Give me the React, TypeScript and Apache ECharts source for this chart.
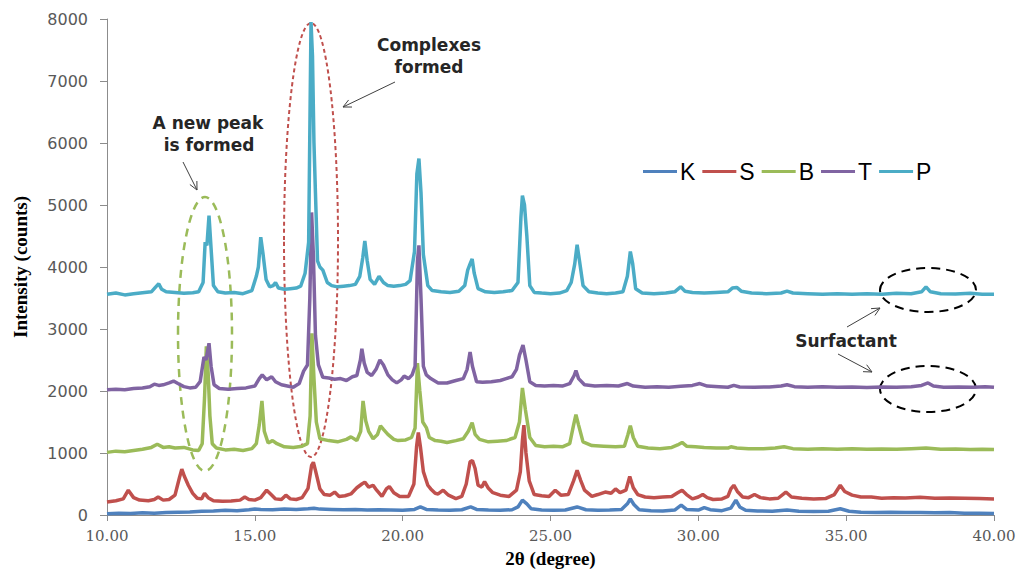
import React, { useEffect, useRef } from "react";
import * as echarts from "echarts";

const seriesNames = ["K", "S", "B", "T", "P"];
const seriesColors = ["#4F81BD", "#C0504D", "#9BBB59", "#8064A2", "#4BACC6"];

const kData = [
  [10.0, 20], [10.4, 30], [10.8, 25], [11.2, 35], [11.6, 30], [12.0, 40], [12.4, 45], [12.8, 50], [13.2, 60], [13.6, 65],
  [14.0, 75], [14.4, 70], [14.8, 85], [15.0, 95], [15.2, 90], [15.6, 85], [16.0, 95], [16.4, 90], [16.8, 100], [17.0, 110],
  [17.2, 95], [17.6, 90], [18.0, 85], [18.4, 90], [18.8, 80], [19.2, 85], [19.6, 80], [20.0, 75], [20.4, 90], [20.6, 130],
  [20.8, 90], [21.2, 80], [21.6, 75], [22.0, 85], [22.3, 130], [22.5, 90], [22.9, 80], [23.3, 75], [23.7, 85], [23.9, 130],
  [24.05, 240], [24.2, 180], [24.35, 100], [24.7, 80], [25.1, 75], [25.5, 80], [25.9, 130], [26.2, 85], [26.6, 75], [27.0, 80],
  [27.4, 90], [27.6, 180], [27.7, 260], [27.82, 170], [28.0, 85], [28.4, 70], [28.8, 65], [29.2, 80], [29.42, 160], [29.6, 90],
  [30.0, 80], [30.2, 120], [30.4, 85], [30.8, 70], [31.1, 110], [31.27, 240], [31.4, 130], [31.6, 75], [32.0, 65], [32.5, 60],
  [33.0, 80], [33.4, 60], [33.9, 55], [34.4, 60], [34.8, 100], [35.1, 60], [35.5, 45], [36.0, 40], [36.5, 45], [37.0, 40],
  [37.5, 40], [38.0, 35], [38.5, 40], [39.0, 30], [39.5, 30], [40.0, 25],
];

const sData = [
  [10.0, 210], [10.3, 230], [10.55, 260], [10.72, 400], [10.9, 280], [11.1, 240], [11.4, 230], [11.6, 250], [11.73, 290], [11.9, 240],
  [12.1, 250], [12.3, 320], [12.45, 600], [12.53, 740], [12.62, 620], [12.75, 480], [12.9, 350], [13.05, 270], [13.2, 260], [13.3, 350],
  [13.42, 280], [13.6, 230], [13.9, 220], [14.2, 225], [14.5, 240], [14.66, 290], [14.8, 250], [15.0, 240], [15.2, 280], [15.4, 400],
  [15.55, 330], [15.7, 260], [15.9, 250], [16.05, 320], [16.2, 260], [16.4, 250], [16.6, 280], [16.8, 430], [16.92, 800], [16.98, 850],
  [17.05, 720], [17.2, 420], [17.35, 330], [17.55, 320], [17.7, 370], [17.85, 300], [18.05, 310], [18.25, 340], [18.45, 440], [18.62, 500],
  [18.72, 530], [18.85, 450], [19.0, 480], [19.12, 400], [19.3, 300], [19.45, 420], [19.55, 460], [19.7, 360], [19.9, 300], [20.2, 300],
  [20.38, 500], [20.47, 1100], [20.53, 1330], [20.6, 1100], [20.7, 700], [20.85, 480], [20.95, 420], [21.1, 350], [21.2, 340], [21.37, 400],
  [21.55, 320], [21.8, 265], [22.0, 300], [22.15, 500], [22.28, 860], [22.36, 880], [22.45, 750], [22.55, 480], [22.68, 450], [22.77, 540],
  [22.9, 430], [23.05, 360], [23.3, 320], [23.6, 300], [23.85, 400], [23.98, 700], [24.05, 1200], [24.1, 1450], [24.17, 1000], [24.28, 550],
  [24.45, 330], [24.7, 310], [24.95, 300], [25.16, 400], [25.35, 320], [25.6, 330], [25.78, 550], [25.9, 720], [26.02, 560], [26.15, 400],
  [26.4, 300], [26.6, 330], [26.85, 370], [27.05, 350], [27.2, 420], [27.35, 360], [27.55, 400], [27.68, 620], [27.8, 440], [27.95, 330],
  [28.2, 290], [28.5, 280], [28.8, 290], [29.1, 300], [29.3, 360], [29.45, 400], [29.6, 330], [29.8, 260], [30.0, 290], [30.15, 330],
  [30.3, 280], [30.5, 250], [30.8, 260], [31.0, 300], [31.1, 420], [31.2, 480], [31.32, 380], [31.5, 290], [31.7, 280], [31.9, 330],
  [32.1, 280], [32.4, 260], [32.7, 270], [32.96, 370], [33.15, 290], [33.5, 270], [33.9, 260], [34.3, 265], [34.6, 330], [34.8, 480],
  [34.95, 380], [35.2, 320], [35.5, 290], [35.85, 290], [36.2, 270], [36.6, 280], [37.0, 275], [37.5, 285], [38.0, 270], [38.5, 275],
  [39.0, 270], [39.5, 265], [40.0, 260],
];

const bData = [
  [10.0, 1010], [10.3, 1030], [10.6, 1020], [10.9, 1040], [11.2, 1060], [11.5, 1090], [11.7, 1140], [11.9, 1090], [12.1, 1100], [12.3, 1080],
  [12.6, 1090], [12.9, 1050], [13.1, 1040], [13.22, 1150], [13.3, 1900], [13.36, 2720], [13.42, 2300], [13.48, 1600], [13.56, 1150], [13.7, 1080],
  [14.0, 1050], [14.3, 1060], [14.6, 1040], [14.9, 1070], [15.05, 1150], [15.15, 1450], [15.24, 1840], [15.32, 1350], [15.45, 1160], [15.6, 1200],
  [15.75, 1150], [16.0, 1100], [16.3, 1090], [16.6, 1110], [16.78, 1150], [16.87, 1600], [16.93, 2930], [17.0, 2200], [17.08, 1500], [17.2, 1230],
  [17.5, 1200], [17.8, 1180], [18.1, 1220], [18.25, 1260], [18.45, 1200], [18.58, 1350], [18.66, 1840], [18.75, 1520], [18.85, 1350], [19.0, 1230],
  [19.15, 1300], [19.25, 1440], [19.35, 1380], [19.5, 1300], [19.7, 1220], [19.85, 1200], [20.1, 1210], [20.3, 1250], [20.42, 1400], [20.5, 2450],
  [20.58, 2000], [20.68, 1500], [20.8, 1410], [20.9, 1250], [21.1, 1200], [21.3, 1190], [21.5, 1170], [21.8, 1200], [22.05, 1230], [22.22, 1350],
  [22.35, 1490], [22.45, 1300], [22.6, 1220], [22.9, 1180], [23.2, 1190], [23.5, 1200], [23.8, 1250], [23.95, 1500], [24.05, 2050], [24.15, 1700],
  [24.3, 1250], [24.5, 1120], [24.8, 1100], [25.1, 1110], [25.4, 1100], [25.65, 1150], [25.78, 1450], [25.86, 1620], [25.95, 1450], [26.1, 1180],
  [26.4, 1120], [26.8, 1110], [27.2, 1100], [27.5, 1110], [27.62, 1300], [27.7, 1440], [27.8, 1250], [27.95, 1110], [28.3, 1080], [28.7, 1070],
  [29.1, 1090], [29.3, 1130], [29.45, 1170], [29.6, 1110], [29.9, 1100], [30.2, 1090], [30.6, 1080], [31.0, 1080], [31.1, 1100], [31.3, 1080],
  [31.7, 1070], [32.2, 1070], [32.6, 1080], [32.9, 1100], [33.2, 1070], [33.7, 1060], [34.2, 1070], [34.7, 1060], [35.2, 1070], [35.7, 1060],
  [36.2, 1065], [36.7, 1060], [37.2, 1070], [37.7, 1080], [38.2, 1060], [38.7, 1065], [39.2, 1055], [39.6, 1060], [40.0, 1055],
];

const tData = [
  [10.0, 2020], [10.3, 2030], [10.6, 2020], [10.9, 2040], [11.2, 2050], [11.45, 2070], [11.6, 2110], [11.75, 2090], [11.9, 2100], [12.1, 2130],
  [12.25, 2160], [12.4, 2120], [12.6, 2070], [12.8, 2050], [13.0, 2060], [13.15, 2150], [13.28, 2550], [13.35, 2500], [13.45, 2770], [13.52, 2400],
  [13.62, 2100], [13.8, 2040], [14.1, 2030], [14.4, 2040], [14.7, 2050], [15.0, 2080], [15.15, 2200], [15.25, 2260], [15.4, 2180], [15.57, 2230],
  [15.7, 2150], [15.9, 2100], [16.1, 2080], [16.3, 2060], [16.5, 2120], [16.65, 2320], [16.78, 2420], [16.86, 3500], [16.92, 4880], [16.98, 4200],
  [17.05, 2900], [17.15, 2420], [17.3, 2220], [17.5, 2210], [17.7, 2190], [17.9, 2200], [18.1, 2170], [18.3, 2230], [18.45, 2250], [18.57, 2500],
  [18.62, 2680], [18.7, 2450], [18.8, 2300], [18.95, 2250], [19.1, 2350], [19.23, 2500], [19.35, 2420], [19.5, 2260], [19.65, 2180], [19.8, 2130],
  [19.95, 2180], [20.05, 2240], [20.2, 2200], [20.32, 2260], [20.42, 2400], [20.5, 4100], [20.55, 4350], [20.62, 3500], [20.7, 2400], [20.8, 2260],
  [20.95, 2200], [21.2, 2130], [21.5, 2130], [21.8, 2170], [22.05, 2200], [22.18, 2350], [22.28, 2630], [22.36, 2400], [22.5, 2150], [22.7, 2140],
  [23.0, 2150], [23.3, 2170], [23.5, 2200], [23.7, 2230], [23.85, 2350], [23.95, 2580], [24.07, 2740], [24.17, 2500], [24.3, 2150], [24.5, 2090],
  [24.8, 2080], [25.1, 2090], [25.4, 2080], [25.65, 2120], [25.8, 2250], [25.86, 2330], [25.95, 2200], [26.15, 2100], [26.5, 2080], [26.9, 2090],
  [27.3, 2080], [27.6, 2120], [27.8, 2080], [28.2, 2060], [28.6, 2070], [29.0, 2060], [29.4, 2075], [29.8, 2090], [30.05, 2120], [30.3, 2080],
  [30.7, 2070], [31.0, 2060], [31.2, 2090], [31.4, 2065], [31.9, 2060], [32.4, 2065], [32.8, 2080], [33.0, 2100], [33.25, 2070], [33.7, 2060],
  [34.2, 2070], [34.7, 2060], [35.2, 2065], [35.7, 2055], [36.2, 2065], [36.7, 2060], [37.2, 2070], [37.55, 2090], [37.77, 2130], [37.95, 2080],
  [38.3, 2060], [38.8, 2065], [39.3, 2060], [39.7, 2070], [40.0, 2060],
];

const pData = [
  [10.0, 3560], [10.3, 3580], [10.6, 3550], [10.9, 3570], [11.2, 3585], [11.5, 3600], [11.65, 3680], [11.75, 3730], [11.85, 3640], [12.0, 3600],
  [12.3, 3590], [12.6, 3575], [12.9, 3585], [13.1, 3600], [13.25, 3750], [13.32, 4400], [13.38, 4350], [13.45, 4830], [13.52, 4300], [13.6, 3700],
  [13.75, 3600], [14.0, 3580], [14.3, 3590], [14.6, 3570], [14.9, 3620], [15.05, 3850], [15.12, 4000], [15.2, 4480], [15.28, 4200], [15.38, 3800],
  [15.5, 3680], [15.62, 3700], [15.7, 3750], [15.8, 3660], [16.0, 3640], [16.2, 3650], [16.4, 3660], [16.55, 3690], [16.7, 3900], [16.82, 4400],
  [16.9, 7950], [16.95, 7400], [17.0, 6000], [17.05, 5200], [17.12, 4100], [17.2, 4000], [17.3, 3950], [17.45, 3750], [17.6, 3700], [17.8, 3680],
  [18.0, 3690], [18.2, 3700], [18.4, 3720], [18.55, 3850], [18.65, 4150], [18.72, 4420], [18.8, 4100], [18.9, 3800], [19.05, 3720], [19.2, 3850],
  [19.35, 3750], [19.5, 3700], [19.7, 3690], [19.9, 3700], [20.1, 3720], [20.25, 3780], [20.4, 4250], [20.48, 5500], [20.55, 5750], [20.62, 5200],
  [20.7, 4200], [20.85, 3700], [21.0, 3620], [21.3, 3600], [21.6, 3590], [21.9, 3610], [22.1, 3700], [22.2, 3950], [22.28, 4050], [22.35, 4130],
  [22.42, 3900], [22.55, 3650], [22.8, 3600], [23.1, 3590], [23.4, 3600], [23.7, 3620], [23.9, 3750], [24.0, 4800], [24.05, 5150], [24.12, 5000],
  [24.2, 4500], [24.3, 3700], [24.45, 3590], [24.7, 3580], [25.0, 3570], [25.3, 3580], [25.55, 3620], [25.7, 3750], [25.82, 4050], [25.9, 4360],
  [25.98, 4100], [26.1, 3700], [26.3, 3600], [26.6, 3580], [26.9, 3570], [27.2, 3580], [27.45, 3600], [27.6, 3850], [27.7, 4250], [27.78, 4050],
  [27.88, 3650], [28.1, 3580], [28.5, 3570], [28.9, 3580], [29.2, 3600], [29.4, 3680], [29.55, 3610], [29.8, 3590], [30.2, 3580], [30.6, 3590],
  [31.0, 3600], [31.15, 3660], [31.3, 3670], [31.45, 3610], [31.8, 3580], [32.3, 3570], [32.8, 3580], [33.0, 3610], [33.2, 3580], [33.7, 3570],
  [34.2, 3560], [34.7, 3570], [35.2, 3560], [35.7, 3570], [36.2, 3560], [36.7, 3575], [37.2, 3570], [37.55, 3600], [37.7, 3680], [37.85, 3600],
  [38.2, 3570], [38.7, 3565], [39.2, 3575], [39.6, 3560], [40.0, 3560],
];

const allData = [kData, sData, bData, tData, pData];

function arrow(x1: number, y1: number, x2: number, y2: number) {
  const a = Math.atan2(y2 - y1, x2 - x1);
  const L = 9;
  const s = 0.45;
  const p1 = [x2 - L * Math.cos(a - s), y2 - L * Math.sin(a - s)];
  const p2 = [x2 - L * Math.cos(a + s), y2 - L * Math.sin(a + s)];
  return [
    { type: "line", silent: true, shape: { x1, y1, x2, y2 }, style: { stroke: "#404040", lineWidth: 1 } },
    { type: "polyline", silent: true, shape: { points: [p1, [x2, y2], p2] }, style: { stroke: "#404040", lineWidth: 1, fill: "none" } },
  ];
}

function label(text: string, x: number, y: number) {
  return {
    type: "text",
    silent: true,
    x,
    y,
    style: {
      text,
      fill: "#262626",
      font: "bold 17px 'DejaVu Sans'",
      align: "center",
      verticalAlign: "middle",
    },
  };
}

function ellipse(cx: number, cy: number, rx: number, ry: number, stroke: string, dash: number[], lw: number) {
  return {
    type: "ellipse",
    silent: true,
    shape: { cx, cy, rx, ry },
    style: { fill: "none", stroke, lineWidth: lw, lineDash: dash },
  };
}

export default function App() {
  const ref = useRef<HTMLDivElement>(null);
  useEffect(() => {
    if (!ref.current) return;
    const chart = echarts.init(ref.current, null, { renderer: "svg" });
    const option = {
      animation: false,
      backgroundColor: "#ffffff",
      grid: { left: 107, right: 25, top: 19, bottom: 55, containLabel: false },
      legend: {
        data: seriesNames,
        left: 638,
        top: 155,
        icon: "rect",
        itemWidth: 34,
        itemHeight: 3,
        itemGap: 7,
        textStyle: { fontSize: 23, color: "#000", fontFamily: "Liberation Sans", padding: [0, 0, 0, -2] },
      },
      xAxis: {
        type: "value",
        min: 10,
        max: 40,
        interval: 5,
        name: "2θ (degree)",
        nameLocation: "middle",
        nameGap: 34,
        nameTextStyle: { fontFamily: "Liberation Serif", fontWeight: "bold", fontSize: 19, color: "#000" },
        axisLine: { show: true, onZero: false, lineStyle: { color: "#8c8c8c", width: 1 } },
        axisTick: { show: true, inside: false, length: 6, lineStyle: { color: "#8c8c8c" } },
        axisLabel: {
          margin: 13,
          fontFamily: "DejaVu Serif",
          fontSize: 15,
          color: "#595959",
          formatter: (v: number) => v.toFixed(2),
        },
        splitLine: { show: false },
      },
      yAxis: {
        type: "value",
        min: 0,
        max: 8000,
        interval: 1000,
        name: "Intensity (counts)",
        nameLocation: "middle",
        nameGap: 77,
        nameTextStyle: { fontFamily: "Liberation Serif", fontWeight: "bold", fontSize: 19, color: "#000" },
        axisLine: { show: true, lineStyle: { color: "#8c8c8c", width: 1 } },
        axisTick: { show: true, inside: false, length: 7, lineStyle: { color: "#8c8c8c" } },
        axisLabel: {
          margin: 19,
          fontFamily: "DejaVu Sans",
          fontSize: 16,
          color: "#595959",
          formatter: (v: number) => String(v),
        },
        splitLine: { show: false },
      },
      series: seriesNames.map((name, i) => ({
        name,
        type: "line",
        data: allData[i],
        symbol: "none",
        lineStyle: { color: seriesColors[i], width: 3.5 },
        itemStyle: { color: seriesColors[i] },
        z: 2 + i,
      })),
      graphic: [
        ellipse(205, 334, 27, 137, "#9BBB59", [8, 6], 2.5),
        ellipse(311, 240, 27, 217, "#C0504D", [4, 3], 2),
        ellipse(928, 290, 48, 22, "#000000", [9, 6], 2),
        ellipse(928, 389, 48, 23, "#000000", [9, 6], 2),
        label("A new peak", 208, 123),
        label("is formed", 209, 145),
        label("Complexes", 429, 45),
        label("formed", 429, 67),
        label("Surfactant", 846, 341),
        ...arrow(183, 162, 197, 190),
        ...arrow(395, 82, 343, 107),
        ...arrow(847, 327, 880, 308),
        ...arrow(838, 354, 872, 372),
      ],
    };
    chart.setOption(option as any);
    return () => chart.dispose();
  }, []);
  return <div ref={ref} style={{ position: "absolute", left: 0, top: 0, width: 1019, height: 573 }} />;
}
